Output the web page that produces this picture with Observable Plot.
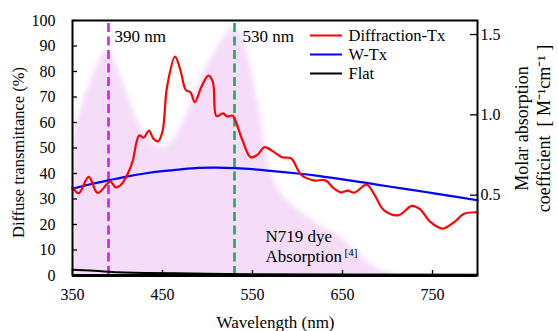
<!DOCTYPE html>
<html><head><meta charset="utf-8">
<script src="https://cdn.jsdelivr.net/npm/d3@7"></script>
<script src="https://cdn.jsdelivr.net/npm/@observablehq/plot@0.6"></script>
<style>
body{margin:0;background:#fff}
svg{display:block}
</style>
</head><body><div id="chart"></div>
<script>
// N719 dye molar absorption (right axis units)
const absNm  = [350,360,370,380,387,395,404,413,422,437,452,470,485,497,507,518,530,540,548,556,562,568,578,590,605,620,635,650,665,680,695,710,725,800];
const absVal = [0.85,1.05,1.21,1.34,1.40,1.36,1.24,1.10,0.97,0.84,0.80,0.92,1.12,1.28,1.38,1.48,1.54,1.47,1.30,1.08,0.88,0.70,0.55,0.46,0.39,0.33,0.28,0.23,0.15,0.08,0.03,0.01,0,0];
// Diffraction-Tx (%)
const redNm  = [350,357,368,378,392,398,405,413,417,424,429,435,440,445,450,455,464,470,476,481,486,493,501,506,510,517,522,528,531,539,548,556,563,576,583,593,604,618,631,640,648,656,663,677,685,696,712,727,736,748,761,774,785,800];
const redVal = [34.6,32.3,38.7,32.4,36.8,34.6,36.0,41.2,45.0,54.9,54.1,56.8,53.6,52.6,56.5,73.8,85.8,80.4,72.7,71.9,68.0,73.8,78.4,75.8,62.5,63.6,62.4,62.7,60.8,52.9,46.4,47.5,50.3,47.9,46.4,45.9,39.5,37.3,37.3,34.3,32.6,33.3,32.5,35.6,32.0,25.6,23.6,27.3,26.0,20.9,18.4,20.9,24.2,24.8];
// W-Tx (%)
const blueNm  = [350,370,390,410,430,450,470,490,510,530,550,570,600,625,650,675,700,725,750,775,800];
const blueVal = [34.0,35.8,37.3,38.8,40.0,40.9,41.6,42.2,42.3,42.1,41.7,41.0,40.0,39.0,37.7,36.4,35.0,33.7,32.3,30.9,29.5];
// Flat (%)
const flatNm  = [350,370,390,430,500,550,650,800];
const flatVal = [2.3,2.0,1.5,1.0,0.7,0.5,0.4,0.3];

const seriesNames  = ["Diffraction-Tx","W-Tx","Flat"];
const seriesColors = ["#ff0000","#0000ff","#000000"];
const markerNm     = [390,530];
const markerLabels = ["390 nm","530 nm"];
const markerColors = ["#cc22ee","#1faa55"];
const xTicks = [350,450,550,650,750];
const yTicks = d3.range(0,101,10);
const rTicks = [0.5,1.0,1.5];
const K = 63; // right-axis unit -> left-axis unit

const W=558,H=331,mL=72,mR=81,mT=20,mB=56;
const x0=350,x1=800,y0=0,y1=100;
const pxX = px => x0 + (px-mL)*(x1-x0)/(W-mL-mR);
const pxY = py => y0 + (H-mB-py)*(y1-y0)/(H-mT-mB);
const dX = px => px*(x1-x0)/(W-mL-mR);
const dY = px => px*(y1-y0)/(H-mT-mB);

const abs  = absNm.map((n,i)=>({n, v: absVal[i]*K}));
const red  = redNm.map((n,i)=>({n, v: redVal[i]}));
const blue = blueNm.map((n,i)=>({n, v: blueVal[i]}));
const flat = flatNm.map((n,i)=>({n, v: flatVal[i]}));
const legend = seriesNames.map((s,i)=>({s, c: seriesColors[i], i}));

const font = "Liberation Serif";

const plot = Plot.plot({
  width: W, height: H,
  marginLeft: mL, marginRight: mR, marginTop: mT, marginBottom: mB,
  x: {domain: [x0,x1]},
  y: {domain: [y0,y1]},
  style: {fontFamily: font, fontSize: "16px", color: "black", background: "white"},
  marks: [
    Plot.areaY(abs, {x: "n", y1: -6, y2: "v", fill: "#f5ddf9", curve: "natural"}),
    ...markerNm.map((m,i)=>Plot.ruleX([m], {y1: 0, y2: 100, stroke: markerColors[i], strokeWidth: 2.6, strokeDasharray: "9,4.5"})),
    Plot.line(flat, {x: "n", y: "v", stroke: seriesColors[2], strokeWidth: 2, curve: "natural"}),
    Plot.line(blue, {x: "n", y: "v", stroke: seriesColors[1], strokeWidth: 2.2, curve: "natural"}),
    Plot.line(red, {x: "n", y: "v", stroke: seriesColors[0], strokeWidth: 2.2, curve: "catmull-rom"}),
    // inward ticks
    Plot.ruleY(yTicks, {x1: x0, x2: x0 + dX(5), stroke: "black", strokeWidth: 1.3}),
    Plot.ruleY(rTicks.map(v=>v*K), {x1: x1 - dX(7), x2: x1, stroke: "black", strokeWidth: 1.3}),
    Plot.ruleX(xTicks, {y1: 0, y2: dY(5), stroke: "black", strokeWidth: 1.3}),
    Plot.frame({stroke: "black", strokeWidth: 2}),
    Plot.ruleY([0], {stroke: "black", strokeWidth: 3}),
    // axes labels
    Plot.axisY(yTicks, {anchor: "left", tickSize: 0, tickPadding: 17, label: null, fontSize: 16, fontFamily: font}),
    Plot.axisY(rTicks.map(v=>v*K), {anchor: "right", tickSize: 0, tickPadding: 3, label: null, fontSize: 16, fontFamily: font, tickFormat: d => (d/K).toFixed(1)}),
    Plot.axisX(xTicks, {anchor: "bottom", tickSize: 0, tickPadding: 13, label: null, fontSize: 16, fontFamily: font}),
    Plot.text(["Diffuse transmittance (%)"], {frameAnchor: "left", dx: -54, dy: 4.5, rotate: -90, fontSize: 16.5, fontFamily: font, text: d=>d, textAnchor: "middle", lineAnchor: "middle"}),
    Plot.text(["Molar absorption\ncoefficient  [ M\u207B\u00B9cm\u207B\u00B9 ]"], {frameAnchor: "right", dx: 54, dy: -19.5, rotate: -90, fontSize: 18, fontFamily: font, lineHeight: 1.22, text: d=>d, textAnchor: "middle", lineAnchor: "middle"}),
    Plot.text(["Wavelength (nm)"], {frameAnchor: "bottom", dx: 0.5, dy: 47, fontSize: 17, fontFamily: font, text: d=>d, textAnchor: "middle", lineAnchor: "middle"}),
    // marker labels
    ...markerNm.map((m,i)=>Plot.text([markerLabels[i]], {x: [m], frameAnchor: "top", dx: i===0?6:8, dy: 16, textAnchor: "start", lineAnchor: "middle", fontSize: 17, fontFamily: font, text: d=>d})),
    // dye annotation
    Plot.text(["N719 dye"], {frameAnchor: "bottom-left", dx: 193, dy: -39, textAnchor: "start", lineAnchor: "middle", fontSize: 17, fontFamily: font, text: d=>d}),
    Plot.text(["Absorption"], {frameAnchor: "bottom-left", dx: 193, dy: -18.5, textAnchor: "start", lineAnchor: "middle", fontSize: 17, fontFamily: font, text: d=>d}),
    Plot.text(["[4]"], {frameAnchor: "bottom-left", dx: 272, dy: -23, textAnchor: "start", lineAnchor: "middle", fontSize: 11, fontFamily: font, text: d=>d}),
    // legend
    Plot.ruleY(legend, {y: d => pxY(35 + d.i*19), x1: pxX(310), x2: pxX(342), stroke: "c", strokeWidth: 2}),
    Plot.text(legend, {frameAnchor: "top-left", x: () => pxX(348), y: d => pxY(35 + d.i*19), text: "s", textAnchor: "start", lineAnchor: "middle", fontSize: 16.5, fontFamily: font})
  ]
});

// soft edge + clip for the absorption band
const svg = d3.select(plot);
const defs = svg.insert("defs", ":first-child");
defs.append("filter").attr("id","soft").attr("x","-5%").attr("y","-5%").attr("width","110%").attr("height","110%")
  .append("feGaussianBlur").attr("stdDeviation", 2.6);
defs.append("clipPath").attr("id","frameclip").append("rect")
  .attr("x", mL).attr("y", mT).attr("width", W-mL-mR).attr("height", H-mT-mB);
const areaG = svg.select('g[aria-label="area"]');
const wrap = svg.insert("g", 'g[aria-label="area"]').attr("clip-path","url(#frameclip)");
wrap.node().appendChild(areaG.node());
areaG.attr("filter","url(#soft)");

document.getElementById("chart").appendChild(plot);
</script></body></html>
